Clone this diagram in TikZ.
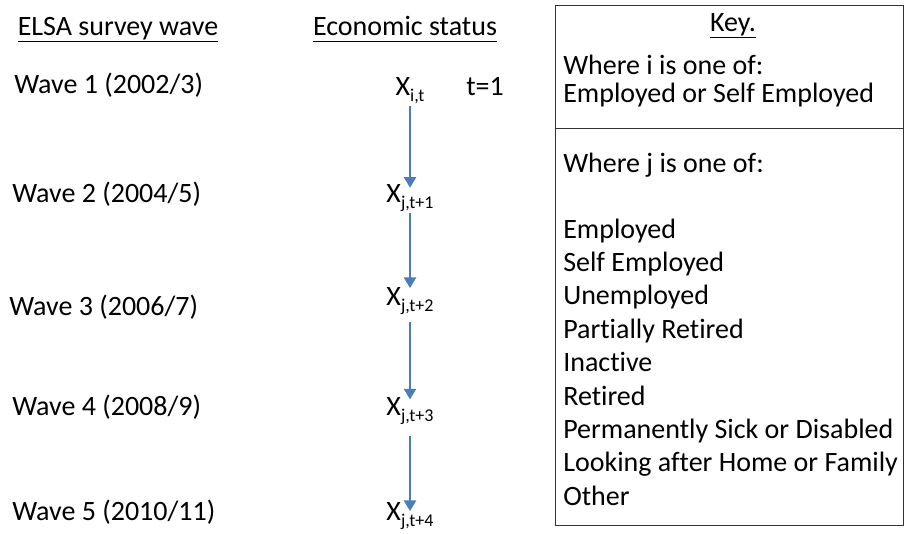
\documentclass[tikz,border=0pt]{standalone}
\usepackage{fontspec}
\setmainfont{Carlito}[Ligatures=NoCommon]
\usepackage{tikz}
\usetikzlibrary{arrows.meta,positioning}

\definecolor{arrowblue}{HTML}{4A7EBB}

% lowered index after the state letter
\newcommand{\idx}[1]{\raisebox{-4.5pt}{\fontsize{13.5}{13.5}\selectfont #1}}
% underline dropped to the same depth on every heading
\newcommand{\headline}[1]{\underline{#1\vphantom{y}}}

\tikzset{
  lbl/.style={inner sep=0pt, anchor=base west},
  head/.style={inner sep=0pt, anchor=base},
  state/.style={inner sep=0pt, anchor=base},
  flow/.style={draw=arrowblue, line width=1.8pt, -{Triangle[width=9pt,length=8pt]}}
}

\begin{document}
\begin{tikzpicture}[x=0.75pt,y=-0.75pt,font=\fontsize{21}{25.6}\selectfont]
    \useasboundingbox (0,0) rectangle (909,533);

    % column headings
    \node[head] (hwave) at (118,35) {\headline{ELSA survey wave}};
    \node[head] (hstat) at (405,35) {\headline{Economic status}};

    % survey waves
    \node[lbl] (w1) at (14,93) {Wave 1 (2002/3)};
    \node[lbl] (w2) at (12,202) {Wave 2 (2004/5)};
    \node[lbl] (w3) at (9,315) {Wave 3 (2006/7)};
    \node[lbl] (w4) at (12,415) {Wave 4 (2008/9)};
    \node[lbl] (w5) at (12,520) {Wave 5 (2010/11)};

    % states at each wave
    \node[state] (x1) at (410,95) {X\idx{i,t}};
    \node[state] (x2) at (410,202) {X\idx{j,t+1}};
    \node[state] (x3) at (410,305) {X\idx{j,t+2}};
    \node[state] (x4) at (410,415) {X\idx{j,t+3}};
    \node[state] (x5) at (410,520) {X\idx{j,t+4}};
    \node[lbl] (t1) at (466,95) {t=1};

    \draw[flow, shorten <=2pt, shorten >=-3pt] (x1) -- (x2);
    \draw[flow, shorten <=1.5pt, shorten >=-1pt] (x2) -- (x3);
    \draw[flow, shorten <=6pt, shorten >=-2pt] (x3) -- (x4);
    \draw[flow, shorten <=9pt, shorten >=-7pt] (x4) -- (x5);

    % key box
    \draw[black!80, line width=0.75pt] (555,5) rectangle (903,525);
    \draw[black!80, line width=0.75pt] (555,128) -- (903,128);
    \node[head] (key) at (733,31) {\headline{Key.}};
    \node[lbl] (ki) at (563,74) {Where i is one of:};
    \node[lbl] (kie) at (563,102) {Employed or Self Employed};
    \node[lbl] (kj) at (563,172) {Where j is one of:};
    \foreach \s [count=\k from 0] in {Employed, Self Employed, Unemployed,
        Partially Retired, Inactive, Retired, Permanently Sick or Disabled,
        Looking after Home or Family, Other}
      \node[lbl] (kj\k) at (563,238+33.4*\k) {\s};
\end{tikzpicture}
\end{document}
